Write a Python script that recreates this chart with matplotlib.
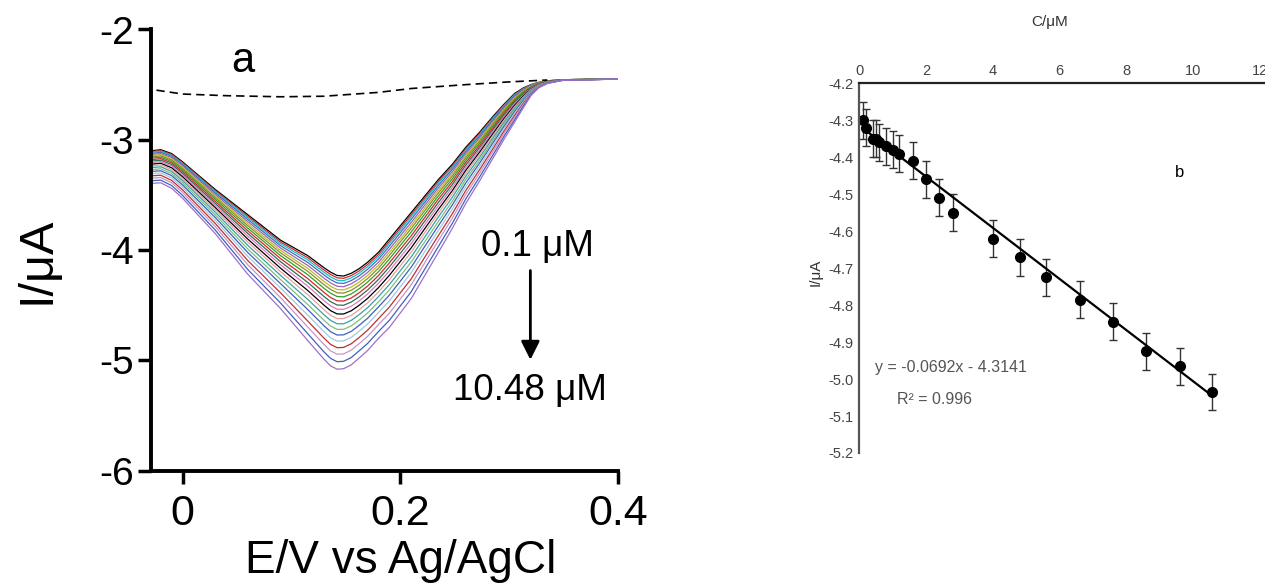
import matplotlib
matplotlib.use("Agg")
import matplotlib.pyplot as plt
import numpy as np

plt.rcParams["font.family"] = ["Liberation Sans", "DejaVu Sans"]
plt.rcParams["axes.unicode_minus"] = False

# ---- panel a: voltammograms, 0.1 -> 10.48 uM ----
potential = [-0.029, -0.02, -0.01, 0.0, 0.03, 0.06, 0.09, 0.115, 0.13, 0.136, 0.142,
             0.148, 0.155, 0.162, 0.17, 0.18, 0.19, 0.20, 0.21, 0.235, 0.248, 0.26,
             0.273, 0.285, 0.295, 0.305, 0.313, 0.32, 0.327, 0.335, 0.35, 0.40]

# one row per potential, one column per curve (top curve first)
current_at_potential = [
    [-3.100, -3.107, -3.115, -3.124, -3.134, -3.144, -3.155, -3.166, -3.180, -3.193, -3.206,
     -3.221, -3.236, -3.252, -3.270, -3.287, -3.307, -3.327, -3.348, -3.371, -3.395],
    [-3.090, -3.098, -3.105, -3.114, -3.125, -3.135, -3.146, -3.158, -3.171, -3.185, -3.198,
     -3.213, -3.228, -3.245, -3.263, -3.281, -3.300, -3.321, -3.342, -3.366, -3.390],
    [-3.125, -3.133, -3.141, -3.150, -3.161, -3.172, -3.183, -3.196, -3.210, -3.224, -3.238,
     -3.254, -3.270, -3.287, -3.306, -3.325, -3.346, -3.368, -3.390, -3.415, -3.440],
    [-3.200, -3.208, -3.217, -3.226, -3.238, -3.250, -3.261, -3.274, -3.289, -3.304, -3.319,
     -3.335, -3.352, -3.370, -3.390, -3.410, -3.431, -3.454, -3.477, -3.504, -3.530],
    [-3.450, -3.460, -3.470, -3.482, -3.496, -3.510, -3.524, -3.540, -3.558, -3.576, -3.594,
     -3.614, -3.634, -3.656, -3.680, -3.704, -3.730, -3.758, -3.786, -3.818, -3.850],
    [-3.680, -3.694, -3.707, -3.723, -3.742, -3.761, -3.780, -3.802, -3.826, -3.850, -3.874,
     -3.901, -3.928, -3.958, -3.991, -4.023, -4.058, -4.096, -4.134, -4.177, -4.220],
    [-3.910, -3.926, -3.941, -3.960, -3.981, -4.003, -4.025, -4.050, -4.077, -4.105, -4.133,
     -4.164, -4.195, -4.229, -4.267, -4.304, -4.344, -4.387, -4.431, -4.480, -4.530],
    [-4.050, -4.069, -4.089, -4.112, -4.139, -4.166, -4.192, -4.223, -4.258, -4.293, -4.327,
     -4.366, -4.404, -4.447, -4.493, -4.539, -4.589, -4.643, -4.697, -4.758, -4.820],
    [-4.160, -4.181, -4.202, -4.226, -4.255, -4.285, -4.314, -4.347, -4.384, -4.421, -4.459,
     -4.500, -4.542, -4.587, -4.637, -4.687, -4.741, -4.799, -4.857, -4.924, -4.990],
    [-4.200, -4.221, -4.243, -4.268, -4.298, -4.328, -4.357, -4.391, -4.430, -4.468, -4.506,
     -4.549, -4.591, -4.638, -4.689, -4.740, -4.795, -4.855, -4.914, -4.982, -5.050],
    [-4.230, -4.251, -4.273, -4.298, -4.328, -4.358, -4.387, -4.421, -4.460, -4.498, -4.536,
     -4.579, -4.621, -4.668, -4.719, -4.770, -4.825, -4.885, -4.944, -5.012, -5.080],
    [-4.235, -4.256, -4.277, -4.302, -4.332, -4.361, -4.390, -4.424, -4.462, -4.500, -4.537,
     -4.579, -4.621, -4.668, -4.718, -4.768, -4.823, -4.882, -4.941, -5.008, -5.075],
    [-4.210, -4.231, -4.252, -4.276, -4.305, -4.335, -4.364, -4.397, -4.434, -4.471, -4.509,
     -4.550, -4.592, -4.637, -4.687, -4.737, -4.791, -4.849, -4.907, -4.974, -5.040],
    [-4.170, -4.190, -4.211, -4.235, -4.263, -4.292, -4.320, -4.352, -4.389, -4.425, -4.462,
     -4.502, -4.543, -4.587, -4.636, -4.684, -4.737, -4.794, -4.850, -4.915, -4.980],
    [-4.110, -4.130, -4.150, -4.174, -4.202, -4.230, -4.258, -4.290, -4.326, -4.362, -4.398,
     -4.438, -4.478, -4.522, -4.570, -4.618, -4.670, -4.726, -4.782, -4.846, -4.910],
    [-4.020, -4.040, -4.059, -4.082, -4.110, -4.137, -4.164, -4.196, -4.231, -4.266, -4.301,
     -4.340, -4.379, -4.422, -4.469, -4.515, -4.566, -4.621, -4.675, -4.738, -4.800],
    [-3.900, -3.920, -3.940, -3.964, -3.992, -4.020, -4.048, -4.080, -4.116, -4.152, -4.188,
     -4.228, -4.268, -4.312, -4.360, -4.408, -4.460, -4.516, -4.572, -4.636, -4.700],
    [-3.780, -3.800, -3.820, -3.843, -3.871, -3.899, -3.926, -3.958, -3.993, -4.029, -4.064,
     -4.104, -4.143, -4.187, -4.234, -4.282, -4.333, -4.388, -4.444, -4.507, -4.570],
    [-3.660, -3.680, -3.699, -3.722, -3.750, -3.777, -3.804, -3.836, -3.871, -3.906, -3.941,
     -3.980, -4.019, -4.062, -4.109, -4.155, -4.206, -4.261, -4.315, -4.378, -4.440],
    [-3.360, -3.377, -3.393, -3.413, -3.436, -3.459, -3.482, -3.509, -3.538, -3.568, -3.598,
     -3.631, -3.664, -3.700, -3.740, -3.779, -3.822, -3.868, -3.914, -3.967, -4.020],
    [-3.220, -3.235, -3.249, -3.266, -3.287, -3.307, -3.327, -3.351, -3.377, -3.403, -3.429,
     -3.458, -3.487, -3.519, -3.554, -3.588, -3.626, -3.667, -3.707, -3.754, -3.800],
    [-3.070, -3.083, -3.096, -3.111, -3.129, -3.147, -3.164, -3.185, -3.208, -3.231, -3.254,
     -3.279, -3.305, -3.333, -3.363, -3.394, -3.427, -3.463, -3.498, -3.539, -3.580],
    [-2.930, -2.941, -2.952, -2.965, -2.981, -2.996, -3.011, -3.029, -3.049, -3.069, -3.088,
     -3.110, -3.132, -3.157, -3.183, -3.209, -3.238, -3.269, -3.300, -3.335, -3.370],
    [-2.790, -2.800, -2.809, -2.820, -2.834, -2.847, -2.860, -2.876, -2.893, -2.910, -2.927,
     -2.946, -2.965, -2.986, -3.009, -3.031, -3.056, -3.083, -3.109, -3.140, -3.170],
    [-2.680, -2.688, -2.696, -2.706, -2.717, -2.728, -2.739, -2.752, -2.766, -2.781, -2.795,
     -2.811, -2.827, -2.845, -2.864, -2.883, -2.904, -2.926, -2.949, -2.974, -3.000],
    [-2.580, -2.587, -2.593, -2.601, -2.610, -2.619, -2.628, -2.639, -2.650, -2.662, -2.674,
     -2.687, -2.700, -2.714, -2.730, -2.745, -2.762, -2.780, -2.798, -2.819, -2.840],
    [-2.530, -2.535, -2.539, -2.544, -2.551, -2.557, -2.563, -2.571, -2.579, -2.587, -2.595,
     -2.604, -2.613, -2.623, -2.634, -2.644, -2.656, -2.669, -2.681, -2.696, -2.710],
    [-2.500, -2.503, -2.505, -2.508, -2.512, -2.515, -2.519, -2.523, -2.527, -2.532, -2.536,
     -2.541, -2.546, -2.552, -2.558, -2.564, -2.570, -2.577, -2.584, -2.592, -2.600],
    [-2.480, -2.481, -2.483, -2.484, -2.486, -2.488, -2.489, -2.491, -2.494, -2.496, -2.498,
     -2.501, -2.503, -2.506, -2.509, -2.512, -2.515, -2.519, -2.522, -2.526, -2.530],
    [-2.465, -2.466, -2.466, -2.467, -2.468, -2.469, -2.470, -2.471, -2.472, -2.473, -2.474,
     -2.475, -2.477, -2.478, -2.479, -2.481, -2.483, -2.484, -2.486, -2.488, -2.490],
    [-2.455, -2.455, -2.455, -2.455, -2.455, -2.455, -2.455, -2.455, -2.455, -2.455, -2.457,
     -2.457, -2.457, -2.457, -2.457, -2.457, -2.459, -2.459, -2.459, -2.459, -2.460],
    [-2.450, -2.450, -2.450, -2.450, -2.450, -2.450, -2.450, -2.450, -2.450, -2.450, -2.450,
     -2.450, -2.450, -2.450, -2.450, -2.450, -2.450, -2.450, -2.450, -2.450, -2.450],
]

curve_colors = ["#000000", "#d62728", "#17becf", "#4a6fb5", "#9467bd", "#bcbd22", "#8c8c2a",
                "#2ca02c", "#d62728", "#2f6f4f", "#e377c2", "#000000", "#e8a0a0", "#3aa0a0",
                "#7fbf7f", "#3f5fbf", "#9ecae1", "#c03030", "#c994c7", "#4060c0", "#a070c8"]

# blank (dashed)
blank_potential = [-0.024, 0.0, 0.04, 0.09, 0.13, 0.18, 0.21, 0.26, 0.30, 0.335]
blank_current = [-2.55, -2.585, -2.60, -2.61, -2.605, -2.57, -2.535, -2.50, -2.475, -2.458]

# ---- panel b: calibration ----
conc = [0.1, 0.2, 0.4, 0.5, 0.6, 0.8, 1.0, 1.2, 1.6, 2.0, 2.4, 2.8, 4.0, 4.8, 5.6,
        6.6, 7.6, 8.6, 9.6, 10.55]
peak_current = [-4.30, -4.32, -4.35, -4.35, -4.36, -4.37, -4.38, -4.39, -4.41, -4.46,
                -4.51, -4.55, -4.62, -4.67, -4.725, -4.785, -4.845, -4.925, -4.965, -5.035]
peak_err = [0.05] * len(conc)
fit_slope = -0.0692
fit_intercept = -4.3141

W, H = 1265, 583
fig = plt.figure(figsize=(W / 100, H / 100), dpi=100)


def px_box(left, top, right, bottom):
    return [left / W, 1 - bottom / H, (right - left) / W, (bottom - top) / H]


# ---------- panel a ----------
ax = fig.add_axes(px_box(151, 29.5, 618, 470.7))
curves = np.array(current_at_potential).T
for i, row in enumerate(curves):
    ax.plot(potential, row, color=curve_colors[i], lw=0.9, solid_joinstyle="round")
ax.plot(blank_potential, blank_current, color="k", lw=1.2, dashes=(5, 3))

ax.set_xlim(-0.029, 0.4)
ax.set_ylim(-6, -2)
ax.set_xticks([0, 0.2, 0.4])
ax.set_xticklabels(["0", "0.2", "0.4"])
ax.set_yticks([-2, -3, -4, -5, -6])
for s in ["top", "right"]:
    ax.spines[s].set_visible(False)
for s in ["left", "bottom"]:
    ax.spines[s].set_linewidth(2.8)
ax.tick_params(axis="both", direction="out", length=9.5, width=2.5)
ax.tick_params(axis="y", labelsize=28, pad=3)
ax.tick_params(axis="x", labelsize=31, pad=7)

ax.text(0.055, -2.29, "a", fontsize=30, ha="center", va="center")
ax.text(0.326, -3.97, "0.1 μM", fontsize=26.5, ha="center", va="center")
ax.text(0.319, -5.27, "10.48 μM", fontsize=26.5, ha="center", va="center")
ax.annotate("", xy=(0.3195, -5.02), xytext=(0.3195, -4.16),
            arrowprops=dict(arrowstyle="-|>", color="k", lw=2, mutation_scale=28))

fig.text(401 / W, 1 - 573 / H, "E/V vs Ag/AgCl", fontsize=33, ha="center", va="baseline")
fig.text(37 / W, 1 - 260 / H, "I/μA", fontsize=35, ha="center", va="center", rotation=90)

# ---------- panel b ----------
bx = fig.add_axes(px_box(859.3, 83.3, 1265, 453))
bx.errorbar(conc, peak_current, yerr=peak_err, fmt="none", ecolor="#333333",
            elinewidth=1.0, capsize=3, capthick=1.0)
bx.plot(conc, peak_current, "o", color="k", ms=7)
fit_x = np.array([conc[0], conc[-1]])
bx.plot(fit_x, fit_slope * fit_x + fit_intercept, color="k", lw=1.6)

bx.set_xlim(0, 12.15)
bx.set_ylim(-5.2, -4.2)
bx.set_xticks(range(0, 13, 2))
bx.set_yticks(np.arange(-4.2, -5.21, -0.1))
bx.set_yticklabels([f"{v:.1f}" for v in np.arange(-4.2, -5.21, -0.1)])
bx.xaxis.tick_top()
for s in ["bottom", "right"]:
    bx.spines[s].set_visible(False)
bx.spines["top"].set_linewidth(1.6)
bx.spines["top"].set_color("#222222")
bx.spines["left"].set_linewidth(1.6)
bx.spines["left"].set_color("#555555")
bx.tick_params(axis="both", length=0, labelsize=10.5, labelcolor="#444444", pad=4)

bx.text(9.6, -4.44, "b", fontsize=12, ha="center", va="center")
bx.text(2.73, -4.97, "y = -0.0692x - 4.3141", fontsize=11.5, color="#555555",
        ha="center", va="center")
bx.text(2.25, -5.055, "R² = 0.996", fontsize=11.5, color="#555555",
        ha="center", va="center")
fig.text(1050 / W, 1 - 22 / H, "C/μM", fontsize=11, ha="center", va="center",
         color="#333333")
fig.text(816 / W, 1 - 272 / H, "I/μA", fontsize=11, ha="center", va="center",
         rotation=90, color="#333333")

fig.savefig("out.png", dpi=100)
